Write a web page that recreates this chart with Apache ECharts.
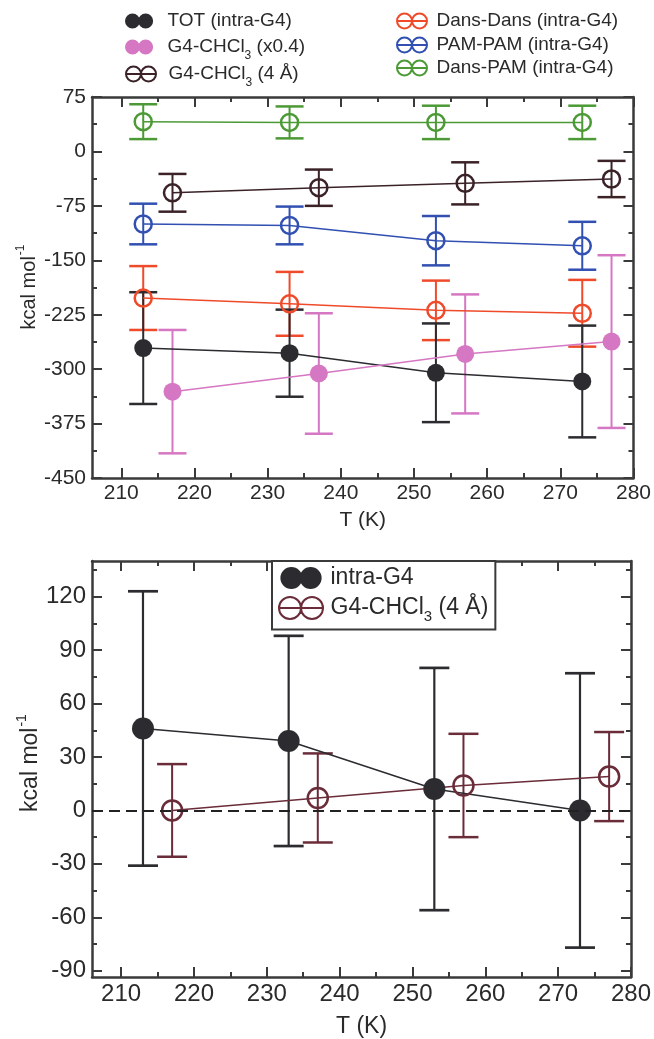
<!DOCTYPE html>
<html>
<head>
<meta charset="utf-8">
<script src="https://cdn.jsdelivr.net/npm/echarts@6/dist/echarts.min.js"></script>
<style>
  html, body { margin: 0; padding: 0; background: #ffffff; }
  #chart { width: 654px; height: 1039px; }
</style>
</head>
<body>
<div id="chart"></div>
<script>
// Temperatures (K); the G4-CHCl3 points sit 4 K to the right of the intra-G4 points
const tempIntra = [213, 233, 253, 273];
const tempSolv = [217, 237, 257, 277];

// Upper panel: interaction energies (kcal/mol) with error half-widths
const totIntra = [-271, -278, -305, -317];
const totIntraErr = [77, 60, 68, 77];
const g4Chcl3Scaled = [-331, -306, -279, -262];
const g4Chcl3ScaledErr = [85, 83, 82, 119];
const g4Chcl3Shell = [-57, -50, -44, -38];
const g4Chcl3ShellErr = [26, 25, 29, 25];
const dansDans = [-202, -210, -219, -223];
const dansDansErr = [44, 44, 41, 46];
const pamPam = [-100, -102, -123, -130];
const pamPamErr = [28, 26, 34, 33];
const dansPam = [41, 40, 40, 40];
const dansPamErr = [24, 22, 23, 23];

// Lower panel: relative energies (kcal/mol) with error half-widths
const relIntra = [46, 39, 12, 0];
const relIntraErr = [77, 59, 68, 77];
const relShell = [0, 7, 14, 19];
const relShellErr = [26, 25, 29, 25];

// Tick values
const tMajor = [210, 220, 230, 240, 250, 260, 270, 280];
const tMinor = [215, 225, 235, 245, 255, 265, 275];
const eTopMajor = [-450, -375, -300, -225, -150, -75, 0, 75];
const eTopMinor = [-412.5, -337.5, -262.5, -187.5, -112.5, -37.5, 37.5];
const eBotMajor = [-90, -60, -30, 0, 30, 60, 90, 120];
const eBotMinor = [-75, -45, -15, 15, 45, 75, 105, 135];

const FONT = 'Liberation Sans';
const AXIS_COLOR = '#3a3a3a';
const TEXT_COLOR = '#2a2a2a';

const C_BLACK = '#2b2b30';
const C_PINK = '#d577c3';
const C_SHELL = '#3a2227';
const C_RED = '#ef4b2b';
const C_BLUE = '#3150b2';
const C_GREEN = '#4c9a36';
const C_MAROON = '#6a2c39';

const ICON_SOLID = 'path://M0,8A8,8 0 1,1 16,8A8,8 0 1,1 0,8Z M14,8A8,8 0 1,1 30,8A8,8 0 1,1 14,8Z';
const ICON_OPEN = 'path://M1,8A7,7 0 1,1 15,8A7,7 0 1,1 1,8Z M15,8A7,7 0 1,1 29,8A7,7 0 1,1 15,8Z M1,8L29,8';

const tickLine = { color: AXIS_COLOR, width: 2 };
const frameLine = { show: true, onZero: false, lineStyle: { color: AXIS_COLOR, width: 2.5 } };
const noLine = { show: false, onZero: false };

function xAxes(grid, labelSize, nameSize, nameGap) {
  const base = { type: 'value', gridIndex: grid, min: 206, max: 280, splitLine: { show: false } };
  return [
    Object.assign({}, base, {
      position: 'bottom', axisLine: frameLine,
      axisTick: { show: true, inside: true, length: 10, customValues: tMajor, lineStyle: tickLine },
      axisLabel: { show: true, customValues: tMajor, fontSize: labelSize, fontFamily: FONT, color: TEXT_COLOR, margin: 5 },
      name: 'T (K)', nameLocation: 'middle', nameGap: nameGap,
      nameTextStyle: { fontSize: nameSize, fontFamily: FONT, color: TEXT_COLOR }
    }),
    Object.assign({}, base, {
      position: 'bottom', axisLine: noLine,
      axisTick: { show: true, inside: true, length: 5, customValues: tMinor, lineStyle: tickLine },
      axisLabel: { show: false }
    }),
    Object.assign({}, base, {
      position: 'top', axisLine: frameLine,
      axisTick: { show: true, inside: true, length: 10, customValues: tMajor, lineStyle: tickLine },
      axisLabel: { show: false }
    }),
    Object.assign({}, base, {
      position: 'top', axisLine: noLine,
      axisTick: { show: true, inside: true, length: 5, customValues: tMinor, lineStyle: tickLine },
      axisLabel: { show: false }
    })
  ];
}

function yAxes(grid, min, max, major, minor, labelSize) {
  const base = { type: 'value', gridIndex: grid, min: min, max: max, splitLine: { show: false } };
  return [
    Object.assign({}, base, {
      position: 'left', axisLine: frameLine,
      axisTick: { show: true, inside: true, length: 10, customValues: major, lineStyle: tickLine },
      axisLabel: { show: true, customValues: major, fontSize: labelSize, fontFamily: FONT, color: TEXT_COLOR, margin: 6 }
    }),
    Object.assign({}, base, {
      position: 'left', axisLine: noLine,
      axisTick: { show: true, inside: true, length: 5, customValues: minor, lineStyle: tickLine },
      axisLabel: { show: false }
    }),
    Object.assign({}, base, {
      position: 'right', axisLine: frameLine,
      axisTick: { show: true, inside: true, length: 10, customValues: major, lineStyle: tickLine },
      axisLabel: { show: false }
    }),
    Object.assign({}, base, {
      position: 'right', axisLine: noLine,
      axisTick: { show: true, inside: true, length: 5, customValues: minor, lineStyle: tickLine },
      axisLabel: { show: false }
    })
  ];
}

// Rotated energy-axis title with a superscript exponent
function yTitle(cx, cy, size, supSize, supPad) {
  return {
    type: 'text', x: cx, y: cy, rotation: Math.PI / 2, silent: true,
    style: {
      text: 'kcal mol{sup|-1}', fontSize: size, fontFamily: FONT, fill: TEXT_COLOR,
      align: 'center', verticalAlign: 'middle',
      rich: { sup: { fontSize: supSize, fontFamily: FONT, fill: TEXT_COLOR, padding: [0, 0, supPad, 1] } }
    }
  };
}

function pairs(xs, ys) { return xs.map((x, i) => [x, ys[i]]); }

// Vertical error bar with caps, drawn through the axes' own coordinate mapping
function errorBars(name, xs, ys, es, color, axisIdx, capWidth, lineWidth) {
  return {
    type: 'custom', name: name + ' error', xAxisIndex: axisIdx, yAxisIndex: axisIdx, z: 2,
    silent: true, animation: false,
    data: xs.map((x, i) => [x, ys[i], es[i]]),
    encode: { x: 0, y: 1 },
    renderItem: function (params, api) {
      const x = api.value(0), y = api.value(1), e = api.value(2);
      const hi = api.coord([x, y + e]);
      const lo = api.coord([x, y - e]);
      const h = capWidth / 2;
      const st = { stroke: color, lineWidth: lineWidth, fill: null };
      const capSt = { stroke: color, lineWidth: lineWidth + 0.5, fill: null };
      return {
        type: 'group',
        children: [
          { type: 'line', shape: { x1: hi[0], y1: hi[1], x2: lo[0], y2: lo[1] }, style: st },
          { type: 'line', shape: { x1: hi[0] - h, y1: hi[1], x2: hi[0] + h, y2: hi[1] }, style: capSt },
          { type: 'line', shape: { x1: lo[0] - h, y1: lo[1], x2: lo[0] + h, y2: lo[1] }, style: capSt }
        ]
      };
    }
  };
}

function lineSeries(name, xs, ys, color, open, axisIdx, size, extra) {
  return Object.assign({
    type: 'line', name: name, xAxisIndex: axisIdx, yAxisIndex: axisIdx, z: 3,
    data: pairs(xs, ys), symbol: 'circle', symbolSize: size, showSymbol: true,
    silent: true, animation: false, emphasis: { disabled: true },
    lineStyle: { color: color, width: 1.5 },
    itemStyle: open
      ? { color: 'rgba(0,0,0,0)', borderColor: color, borderWidth: 2.5 }
      : { color: color, borderWidth: 0 }
  }, extra || {});
}

const legendFmt = function (n) { return n.replace('CHCl3', 'CHCl{s|3}'); };

function legendText(size, subSize, subPad, gap) {
  return {
    fontSize: size, fontFamily: FONT, color: TEXT_COLOR, lineHeight: 30, padding: [0, 0, 0, gap],
    rich: { s: { fontSize: subSize, fontFamily: FONT, color: TEXT_COLOR, padding: [subPad, 0, 0, 0] } }
  };
}

function styleFor(color, open) {
  return open
    ? { color: 'rgba(0,0,0,0)', borderColor: color, borderWidth: 2 }
    : { color: color, borderWidth: 0 };
}

function topLegend(name, color, open, left, top, gap) {
  return {
    left: left, top: top, orient: 'vertical', padding: 0, itemGap: 0, selectedMode: false,
    itemWidth: 31, itemHeight: 15, icon: open ? ICON_OPEN : ICON_SOLID,
    data: [{ name: name, itemStyle: styleFor(color, open) }],
    formatter: legendFmt,
    textStyle: legendText(19, 12, 18, gap)
  };
}

const N_TOT = 'TOT (intra-G4)';
const N_SCALED = 'G4-CHCl3 (x0.4)';
const N_SHELL = 'G4-CHCl3 (4 Å)';
const N_DD = 'Dans-Dans (intra-G4)';
const N_PP = 'PAM-PAM (intra-G4)';
const N_DP = 'Dans-PAM (intra-G4)';
const N_INTRA = 'intra-G4';

const option = {
  animation: false,
  backgroundColor: '#ffffff',
  textStyle: { fontFamily: FONT },
  grid: [
    { left: 92, right: 19, top: 97, height: 381 },
    { left: 92, right: 21, top: 561, height: 420 }
  ],
  xAxis: xAxes(0, 21, 21, 32).concat(xAxes(1, 24, 23, 38)),
  yAxis: yAxes(0, -450, 75, eTopMajor, eTopMinor, 21)
    .concat(yAxes(1, -93.5, 140, eBotMajor, eBotMinor, 24)),
  graphic: [
    yTitle(29, 287, 20, 12, 16),
    yTitle(31, 763, 23, 14, 18)
  ],
  legend: [
    topLegend(N_TOT, C_BLACK, false, 125, 6, 8),
    topLegend(N_SCALED, C_PINK, false, 125, 32, 8),
    topLegend(N_SHELL, C_SHELL, true, 125, 59, 7),
    topLegend(N_DD, C_RED, true, 396, 6, 4),
    topLegend(N_PP, C_BLUE, true, 396, 30, 4),
    topLegend(N_DP, C_GREEN, true, 396, 53, 4),
    {
      left: 272, top: 561, orient: 'vertical', padding: [2, 7, 5, 6], itemGap: 0, selectedMode: false,
      backgroundColor: '#ffffff', borderColor: AXIS_COLOR, borderWidth: 2, borderRadius: 0,
      itemWidth: 45, itemHeight: 22,
      data: [
        { name: N_INTRA, icon: ICON_SOLID, itemStyle: styleFor(C_BLACK, false) },
        { name: N_SHELL, icon: ICON_OPEN, itemStyle: styleFor(C_MAROON, true) }
      ],
      formatter: legendFmt,
      textStyle: legendText(23, 15, 18, 2)
    }
  ],
  series: [
    // upper panel
    errorBars(N_DP, tempIntra, dansPam, dansPamErr, C_GREEN, 0, 28, 2),
    errorBars(N_SHELL, tempSolv, g4Chcl3Shell, g4Chcl3ShellErr, C_SHELL, 0, 28, 2),
    errorBars(N_PP, tempIntra, pamPam, pamPamErr, C_BLUE, 0, 28, 2),
    errorBars(N_DD, tempIntra, dansDans, dansDansErr, C_RED, 0, 28, 2),
    errorBars(N_TOT, tempIntra, totIntra, totIntraErr, C_BLACK, 0, 28, 2),
    errorBars(N_SCALED, tempSolv, g4Chcl3Scaled, g4Chcl3ScaledErr, C_PINK, 0, 28, 2),
    lineSeries(N_DP, tempIntra, dansPam, C_GREEN, true, 0, 17),
    lineSeries(N_SHELL, tempSolv, g4Chcl3Shell, C_SHELL, true, 0, 17),
    lineSeries(N_PP, tempIntra, pamPam, C_BLUE, true, 0, 17),
    lineSeries(N_DD, tempIntra, dansDans, C_RED, true, 0, 17),
    lineSeries(N_TOT, tempIntra, totIntra, C_BLACK, false, 0, 18),
    lineSeries(N_SCALED, tempSolv, g4Chcl3Scaled, C_PINK, false, 0, 18),
    // lower panel
    errorBars(N_INTRA, tempIntra, relIntra, relIntraErr, C_BLACK, 4, 30, 2.2),
    errorBars(N_SHELL, tempSolv, relShell, relShellErr, C_MAROON, 4, 30, 2),
    lineSeries(N_INTRA, tempIntra, relIntra, C_BLACK, false, 4, 22, {
      markLine: {
        silent: true, symbol: ['none', 'none'], animation: false,
        label: { show: false },
        lineStyle: { type: [11, 6], color: '#222222', width: 2 },
        data: [{ yAxis: 0 }]
      }
    }),
    lineSeries(N_SHELL, tempSolv, relShell, C_MAROON, true, 4, 20)
  ]
};

const chart = echarts.init(document.getElementById('chart'), null, { renderer: 'canvas' });
chart.setOption(option);
</script>
</body>
</html>
